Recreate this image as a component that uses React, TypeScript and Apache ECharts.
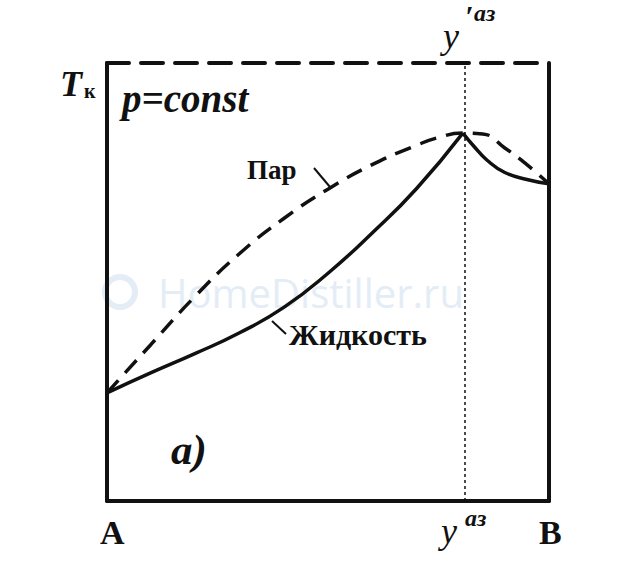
import React, { useEffect, useRef } from "react";
import * as echarts from "echarts";

// Composition (mole fraction of B) and boiling temperature (relative units)
const vaporX = [0, 0.1, 0.2, 0.3, 0.4, 0.5, 0.6, 0.7, 0.75, 0.805, 0.85, 0.9, 0.95, 1];
const vaporT = [24.7, 35.8, 46.8, 56.5, 64.5, 71.2, 76.8, 81.2, 83.0, 84.0, 83.8, 80.6, 76.8, 72.4];
const liquidLeftX = [0, 0.1, 0.2, 0.3, 0.4, 0.5, 0.6, 0.7, 0.805];
const liquidLeftT = [24.7, 29.3, 33.7, 38.4, 44.2, 52.0, 61.2, 71.3, 84.0];
const liquidRightX = [0.805, 0.83, 0.86, 0.9, 0.95, 1];
const liquidRightT = [84.0, 81.0, 77.8, 75.0, 73.4, 72.4];
const azeotropeX = 0.808;

const pairs = (xs: number[], ys: number[]) => xs.map((x, i) => [x, ys[i]]);

const INK = "#111111";
const SERIF = "'Liberation Serif', 'DejaVu Serif', serif";

export default function App() {
  const ref = useRef<HTMLDivElement>(null);
  useEffect(() => {
    if (!ref.current) return;
    const chart = echarts.init(ref.current, undefined, { renderer: "svg" });
    const axisBase = {
      type: "value" as const,
      axisTick: { show: false },
      axisLabel: { show: false },
      splitLine: { show: false },
    };
    const solid = { show: true, onZero: false, lineStyle: { color: INK, width: 4 } };
    chart.setOption({
      animation: false,
      backgroundColor: "#ffffff",
      grid: { left: 107, right: 83, top: 63, bottom: 67 },
      xAxis: [
        { ...axisBase, position: "bottom", min: 0, max: 1, axisLine: solid },
        { ...axisBase, position: "top", min: 0, max: 1, axisLine: { show: true, onZero: false, lineStyle: { color: INK, width: 4, type: [22, 12] } } },
      ],
      yAxis: [
        { ...axisBase, position: "left", min: 0, max: 100, axisLine: solid },
        { ...axisBase, position: "right", min: 0, max: 100, axisLine: solid },
      ],
      graphic: [
        {
          type: "ring", shape: { cx: 120, cy: 292, r: 18, r0: 12 }, z: 0,
          style: { fill: "#e4edf6" }, silent: true,
        },
        {
          type: "text", x: 158, y: 292, z: 0, silent: true,
          style: { text: "HomeDistiller.ru", font: "40px 'Open Sans', sans-serif", fill: "#e4edf6", textVerticalAlign: "middle" },
        },
        { type: "text", x: 60, y: 102, style: { text: "T", font: `italic bold 36px ${SERIF}`, fill: INK, textVerticalAlign: "bottom" } },
        { type: "text", x: 84, y: 101, style: { text: "к", font: `bold 20px ${SERIF}`, fill: INK, textVerticalAlign: "bottom" } },
        { type: "text", x: 122, y: 118, style: { text: "p=const", font: `italic bold 39px ${SERIF}`, fill: INK, textVerticalAlign: "bottom" } },
        { type: "text", x: 247, y: 183, style: { text: "Пар", font: `bold 27px ${SERIF}`, fill: INK, textVerticalAlign: "bottom" } },
        { type: "line", shape: { x1: 314, y1: 168, x2: 330, y2: 187 }, style: { stroke: INK, lineWidth: 2 } },
        { type: "text", x: 289, y: 349, style: { text: "Жидкость", font: `bold 30px ${SERIF}`, fill: INK, textVerticalAlign: "bottom" } },
        { type: "line", shape: { x1: 272, y1: 321, x2: 286, y2: 334 }, style: { stroke: INK, lineWidth: 2 } },
        { type: "text", x: 171, y: 471, style: { text: "а)", font: `italic bold 43px ${SERIF}`, fill: INK, textVerticalAlign: "bottom" } },
        { type: "text", x: 100, y: 549, style: { text: "A", font: `bold 34px ${SERIF}`, fill: INK, textVerticalAlign: "bottom" } },
        { type: "text", x: 539, y: 549, style: { text: "B", font: `bold 34px ${SERIF}`, fill: INK, textVerticalAlign: "bottom" } },
        { type: "text", x: 441, y: 549, style: { text: "y", font: `italic 36px ${SERIF}`, fill: INK, textVerticalAlign: "bottom" } },
        { type: "text", x: 465, y: 530, style: { text: "аз", font: `italic bold 24px ${SERIF}`, fill: INK, textVerticalAlign: "bottom" } },
        { type: "text", x: 443, y: 54, style: { text: "y", font: `italic 36px ${SERIF}`, fill: INK, textVerticalAlign: "bottom" } },
        { type: "text", x: 465, y: 30, style: { text: "′", font: `italic bold 30px ${SERIF}`, fill: INK, textVerticalAlign: "bottom" } },
        { type: "text", x: 474, y: 25, style: { text: "аз", font: `italic bold 24px ${SERIF}`, fill: INK, textVerticalAlign: "bottom" } },
      ],
      series: [
        {
          name: "Пар", type: "line", smooth: 0.5, symbol: "none",
          data: pairs(vaporX, vaporT),
          lineStyle: { color: INK, width: 3.5, type: [17, 10] },
          markLine: {
            silent: true, symbol: "none", label: { show: false },
            lineStyle: { color: INK, width: 1.5, type: [3, 3] },
            data: [{ xAxis: azeotropeX }],
          },
          z: 3,
        },
        {
          name: "Жидкость", type: "line", smooth: 0.5, symbol: "none",
          data: pairs(liquidLeftX, liquidLeftT),
          lineStyle: { color: INK, width: 3.5 }, z: 3,
        },
        {
          name: "Жидкость ", type: "line", smooth: 0.5, symbol: "none",
          data: pairs(liquidRightX, liquidRightT),
          lineStyle: { color: INK, width: 3.5 }, z: 3,
        },
      ],
    });
    return () => chart.dispose();
  }, []);
  return <div ref={ref} style={{ width: 632, height: 568, position: "fixed", left: 0, top: 0 }} />;
}
